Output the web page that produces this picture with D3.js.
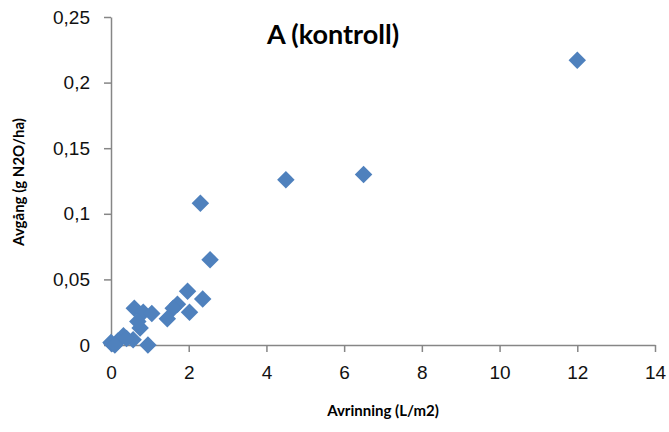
<!DOCTYPE html>
<html>
<head>
<meta charset="utf-8">
<script src="https://cdn.jsdelivr.net/npm/d3@7"></script>
<style>
  body { margin: 0; background: #fff; }
  svg { font-family: Lato, "Open Sans", sans-serif; }
  .axis path, .axis line { stroke: #868686; stroke-width: 1.5; }
  .axis text { font-size: 19px; fill: #111; }
</style>
</head>
<body>
<svg id="svg1" width="669" height="432"></svg>
<script>
// Avrinning (L/m2)
const xVals = [12, 6.5, 4.5, 2.3, 2.55, 1.97, 2.36, 1.71, 2.02, 1.6, 1.45, 0.6, 0.83, 1.05,
  0.75, 0.69, 0.02, 0.32, 0.57, 0.95, 0.18, 0.4, 0, 0.1];
// Avgång (g N2O/ha)
const yVals = [0.217, 0.13, 0.126, 0.108, 0.065, 0.041, 0.035, 0.031, 0.025, 0.028, 0.02, 0.028, 0.025, 0.024,
  0.013, 0.018, 0.001, 0.007, 0.004, 0, 0.003, 0.005, 0.002, 0];
const xTicks = [0, 2, 4, 6, 8, 10, 12, 14];
const yTicks = [0, 0.05, 0.1, 0.15, 0.2, 0.25];

const svg = d3.select('#svg1');
const x = d3.scaleLinear().domain([0, 14]).range([111, 655]);
const y = d3.scaleLinear().domain([0, 0.25]).range([345, 17]);
const fmt = d => String(d).replace('.', ',');

svg.append('g')
    .attr('class', 'axis')
    .attr('transform', 'translate(0,345)')
    .call(d3.axisBottom(x).tickValues(xTicks).tickSize(7).tickSizeOuter(0).tickPadding(14).tickFormat(fmt));

svg.append('g')
    .attr('class', 'axis')
    .attr('transform', 'translate(111,0)')
    .call(d3.axisLeft(y).tickValues(yTicks).tickSize(7).tickSizeOuter(0).tickPadding(14).tickFormat(fmt));

const pts = xVals.map((v, i) => [v, yVals[i]]);
svg.append('g').selectAll('path').data(pts)
  .enter().append('path')
    .attr('transform', d => `translate(${x(d[0])},${y(d[1])})`)
    .attr('d', d3.symbol().type(d3.symbolDiamond2).size(195))
    .attr('fill', '#4f81bd');

svg.append('text')
    .attr('x', 333).attr('y', 44)
    .attr('text-anchor', 'middle')
    .attr('font-size', 27).attr('font-weight', 'bold')
    .text('A (kontroll)');

svg.append('text')
    .attr('x', 383).attr('y', 416)
    .attr('text-anchor', 'middle')
    .attr('font-size', 15).attr('font-weight', 'bold')
    .text('Avrinning (L/m2)');

svg.append('text')
    .attr('transform', 'translate(24,182) rotate(-90)')
    .attr('text-anchor', 'middle')
    .attr('font-size', 15).attr('font-weight', 'bold')
    .text('Avgång (g N2O/ha)');
</script>
</body>
</html>
